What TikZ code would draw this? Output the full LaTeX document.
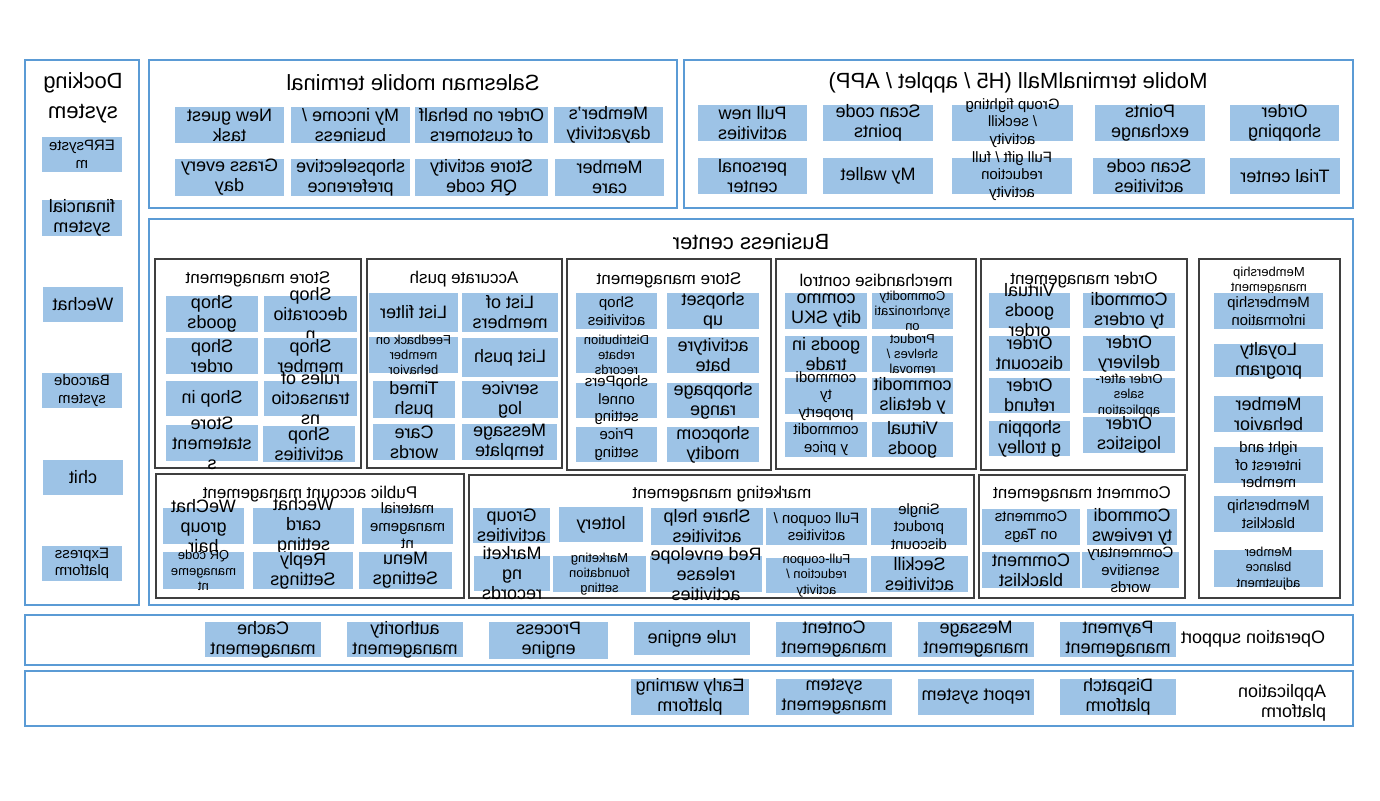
\documentclass[tikz,border=0pt]{standalone}
\usepackage{fontspec}
\setmainfont{Liberation Sans}
\usetikzlibrary{calc}
\definecolor{edgeblue}{HTML}{5B9BD5}
\definecolor{itemblue}{HTML}{9DC3E6}
\definecolor{grpgray}{HTML}{3F3F3F}
\tikzset{
  outer/.style={draw=edgeblue, line width=1.1pt},
  grp/.style={draw=grpgray, line width=0.6pt},
  blk/.style={fill=itemblue},
  lbl/.style={align=center, inner sep=0pt, font=\fontsize{9}{10}\selectfont},
  md/.style={font=\fontsize{7.5}{8.8}\selectfont},
  sm/.style={font=\fontsize{6.5}{7.6}\selectfont},
  ttl/.style={align=center, inner sep=0pt, font=\fontsize{11}{15}\selectfont},
  sub/.style={align=center, inner sep=0pt, font=\fontsize{8.5}{10}\selectfont},
}
% filled block with its text centred on it
\newcommand{\blkbox}[5][]{%
  \path[blk] (#3) rectangle (#4);
  \node[lbl,#1] (#2) at ($(#3)!0.5!(#4)$) {#5};}

\begin{document}
\begin{tikzpicture}[x=-0.5pt, y=-0.5pt, xscale=-1, every node/.append style={transform shape}]
\useasboundingbox (0,0) rectangle (1380,800);
\path[fill=white] (0,0) rectangle (1380,800);

% frames
\draw[outer] (25,60) rectangle (139,605);
\draw[outer] (149,60) rectangle (677,208);
\draw[outer] (684,60) rectangle (1353,208);
\draw[outer] (149,219) rectangle (1353,605);
\draw[outer] (25,615) rectangle (1353,665);
\draw[outer] (25,671) rectangle (1353,726);

\draw[grp] (155,259) rectangle (361,468);
\draw[grp] (367,259) rectangle (562,468);
\draw[grp] (567,259) rectangle (771,470);
\draw[grp] (776,259) rectangle (976,469);
\draw[grp] (981,259) rectangle (1187,470);
\draw[grp] (1199,259) rectangle (1340,598);
\draw[grp] (156,474) rectangle (464,598);
\draw[grp] (469,475) rectangle (974,598);
\draw[grp] (979,475) rectangle (1185,598);

% titles
\node[ttl] (dockT) at (83,98) {Docking\\system};
\node[ttl] (salesT) at (413,83) {Salesman mobile terminal};
\node[ttl] (mallT) at (1018,83) {Mobile terminalMall (H5 / applet / APP)};
\node[ttl] (bizT) at (751,242) {Business center};
\node[sub] (sm1T) at (258,279) {Store management};
\node[sub] (pushT) at (464,279) {Accurate push};
\node[sub] (sm2T) at (669,280) {Store management};
\node[sub] (mcT) at (876,280) {merchandise control};
\node[sub] (omT) at (1084,280) {Order management};
\node[sub,sm] (memT) at (1269,281) {Membership\\management};
\node[sub] (paT) at (310,494) {Public account management};
\node[sub] (mkT) at (722,494) {marketing management};
\node[sub] (cmT) at (1082,494) {Comment management};

% docking system
\blkbox[md]{erp}{42,137}{122,172}{ERPsyste\\m}
\blkbox{fin}{42,200}{122,236}{financial\\system}
\blkbox{wechat}{43,287}{123,322}{Wechat}
\blkbox[md]{barcode}{42,373}{122,408}{Barcode\\system}
\blkbox{chit}{43,460}{123,495}{chit}
\blkbox[md]{express}{42,546}{122,581}{Express\\platform}

% salesman mobile terminal
\blkbox{guest}{175,107}{284,143}{New guest\\task}
\blkbox{income}{291,107}{410,143}{My income /\\business}
\blkbox{behalf}{415,107}{548,143}{Order on behalf\\of customers}
\blkbox{dayact}{554,107}{663,143}{Member's\\dayactivity}
\blkbox{grass}{175,159}{284,196}{Grass every\\day}
\blkbox{prefer}{291,159}{410,196}{shopselective\\preference}
\blkbox{qrcode}{415,159}{548,196}{Store activity\\QR code}
\blkbox{care}{555,159}{664,196}{Member\\care}

% mobile terminal mall
\blkbox{pullnew}{698,105}{807,141}{Pull new\\activities}
\blkbox{scanpts}{823,105}{933,141}{Scan code\\points}
\blkbox[md]{fighting}{952,105}{1073,141}{Group fighting\\/ seckill\\activity}
\blkbox{exchange}{1095,105}{1205,141}{Points\\exchange}
\blkbox{shopping}{1230,105}{1339,141}{Order\\shopping}
\blkbox{personal}{698,158}{807,194}{personal\\center}
\blkbox{wallet}{823,158}{933,194}{My wallet}
\blkbox[md]{fullgift}{952,158}{1072,194}{Full gift / full\\reduction\\activity}
\blkbox{scanact}{1093,158}{1205,194}{Scan code\\activities}
\blkbox{trial}{1230,158}{1340,194}{Trial center}

% store management (left)
\blkbox{shopgoods}{166,296}{258,332}{Shop\\goods}
\blkbox{decor}{264,296}{357,332}{Shop\\decoratio\\n}
\blkbox{shoporder}{166,338}{258,374}{Shop\\order}
\blkbox{shopmember}{264,338}{357,374}{Shop\\member}
\blkbox{shopin}{166,381}{258,416}{Shop in}
\blkbox{rules}{264,381}{357,416}{rules of\\transactio\\ns}
\blkbox{statement}{166,425}{258,461}{Store\\statement\\s}
\blkbox{shopact}{263,426}{355,462}{Shop\\activities}

% accurate push
\blkbox{listfilter}{369,293}{458,332}{List filter}
\blkbox{listmem}{462,293}{558,332}{List of\\members}
\blkbox[sm]{feedback}{369,337}{458,373}{Feedback on\\member\\behavior}
\blkbox{listpush}{462,338}{558,377}{List push}
\blkbox{timed}{373,381}{455,418}{Timed\\push}
\blkbox{servlog}{462,381}{558,418}{service\\log}
\blkbox{carewords}{373,424}{455,460}{Care\\words}
\blkbox{msgtpl}{462,424}{557,460}{Message\\template}

% store management (right)
\blkbox[md]{shopact2}{576,293}{657,329}{Shop\\activities}
\blkbox{shopset}{667,293}{759,329}{shopset\\up}
\blkbox[sm]{distrib}{576,337}{657,373}{Distribution\\rebate\\records}
\blkbox{actrebate}{667,337}{759,373}{activityre\\bate}
\blkbox[md]{personnel}{576,383}{657,418}{shopPers\\onnel\\setting}
\blkbox{pagerange}{667,383}{759,418}{shoppage\\range}
\blkbox[md]{price}{576,427}{657,462}{Price\\setting}
\blkbox{shopcom}{667,427}{759,462}{shopcom\\modity}

% merchandise control
\blkbox{sku}{785,293}{867,329}{commo\\dity SKU}
\blkbox[sm]{sync}{872,293}{953,329}{Commodity\\synchronizati\\on}
\blkbox{trade}{785,336}{867,372}{goods in\\trade}
\blkbox[sm]{shelves}{872,336}{953,372}{Product\\shelves /\\removal}
\blkbox[md]{property}{785,378}{867,414}{commodi\\ty\\property}
\blkbox{details}{872,378}{953,414}{commodit\\y details}
\blkbox[md]{cprice}{785,422}{867,457}{commodit\\y price}
\blkbox{virtual}{872,422}{953,457}{Virtual\\goods}

% order management
\blkbox{vorder}{989,293}{1070,328}{Virtual\\goods\\order}
\blkbox{corders}{1083,293}{1175,328}{Commodi\\ty orders}
\blkbox{discount}{989,336}{1070,371}{Order\\discount}
\blkbox{delivery}{1083,336}{1175,371}{Order\\delivery}
\blkbox{refund}{989,378}{1070,413}{Order\\refund}
\blkbox[sm]{aftersale}{1083,378}{1175,413}{Order after-\\sales\\application}
\blkbox{trolley}{989,421}{1070,456}{shoppin\\g trolley}
\blkbox{logistics}{1083,417}{1175,453}{Order\\logistics}

% membership management
\blkbox[md]{meminfo}{1214,293}{1323,329}{Membership\\information}
\blkbox{loyalty}{1214,344}{1323,377}{Loyalty\\program}
\blkbox{behavior}{1214,396}{1323,432}{Member\\behavior}
\blkbox[md]{rights}{1214,447}{1323,483}{right and\\interest of\\member}
\blkbox[md]{blacklist}{1214,496}{1323,532}{Membership\\blacklist}
\blkbox[sm]{balance}{1214,550}{1323,587}{Member\\balance\\adjustment}

% public account management
\blkbox{wgroup}{163,508}{244,544}{WeChat\\group\\hair}
\blkbox{wcard}{253,508}{354,544}{Wechat\\card\\setting}
\blkbox[md]{material}{362,508}{453,544}{material\\manageme\\nt}
\blkbox[sm]{qrmgmt}{163,552}{244,589}{QR code\\manageme\\nt}
\blkbox{reply}{253,552}{353,589}{Reply\\Settings}
\blkbox{menu}{359,552}{452,589}{Menu\\Settings}

% marketing management
\blkbox{groupact}{473,508}{550,543}{Group\\activities}
\blkbox{lottery}{559,507}{643,542}{lottery}
\blkbox{sharehelp}{651,508}{763,545}{Share help\\activities}
\blkbox[md]{fullcoupon}{766,508}{867,545}{Full coupon /\\activities}
\blkbox[md]{single}{871,508}{967,545}{Single\\product\\discount}
\blkbox{mkrecords}{474,556}{550,591}{Marketi\\ng\\records}
\blkbox[sm]{foundation}{553,556}{646,592}{Marketing\\foundation\\setting}
\blkbox{redenv}{650,556}{762,592}{Red envelope\\release\\activities}
\blkbox[sm]{fcreduce}{766,558}{867,593}{Full-coupon\\reduction /\\activity}
\blkbox{seckill}{871,556}{968,592}{Seckill\\activities}

% comment management
\blkbox[md]{ontags}{982,509}{1080,545}{Comments\\on Tags}
\blkbox{reviews}{1087,509}{1177,545}{Commodi\\ty reviews}
\blkbox{cblack}{982,552}{1080,588}{Comment\\blacklist}
\blkbox[md]{sensitive}{1082,552}{1179,588}{Commentary\\sensitive\\words}

% operation support
\node[lbl] (opT) at (1253,639) {Operation support};
\blkbox{cache}{205,622}{321,657}{Cache\\management}
\blkbox{authority}{347,622}{463,657}{authority\\management}
\blkbox{process}{489,622}{608,659}{Process\\engine}
\blkbox{rule}{634,622}{750,655}{rule engine}
\blkbox{content}{776,622}{892,657}{Content\\management}
\blkbox{message}{918,622}{1034,657}{Message\\management}
\blkbox{payment}{1060,622}{1176,657}{Payment\\management}

% application platform
\node[lbl, align=left] (appT) at (1282,703) {Application\\platform};
\blkbox{warning}{631,679}{749,715}{Early warning\\platform}
\blkbox{sysmgmt}{776,679}{892,715}{system\\management}
\blkbox{report}{918,679}{1034,715}{report system}
\blkbox{dispatch}{1060,679}{1176,715}{Dispatch\\platform}
\end{tikzpicture}
\end{document}
